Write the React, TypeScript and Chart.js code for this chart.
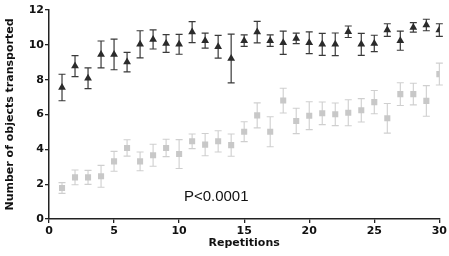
import { useEffect, useRef } from "react";
import { Chart, registerables } from "chart.js";

Chart.register(...registerables);

const repetitions = [
  1, 2, 3, 4, 5, 6, 7, 8, 9, 10, 11, 12, 13, 14, 15,
  16, 17, 18, 19, 20, 21, 22, 23, 24, 25, 26, 27, 28, 29, 30,
];
const upperMean = [
  7.55, 8.78, 8.08, 9.45, 9.45, 9.01, 10.03, 10.31, 10.08, 10.03,
  10.73, 10.24, 9.89, 9.22, 10.24, 10.73, 10.24, 10.12, 10.37, 10.12,
  10.03, 10.03, 10.75, 10.03, 10.08, 10.85, 10.24, 11.0, 11.14, 10.85,
];
const upperErr = [
  0.76, 0.6, 0.6, 0.77, 0.88, 0.56, 0.78, 0.55, 0.51, 0.57,
  0.6, 0.43, 0.65, 1.4, 0.33, 0.62, 0.33, 0.67, 0.3, 0.62,
  0.63, 0.65, 0.33, 0.63, 0.47, 0.36, 0.55, 0.27, 0.33, 0.36,
];
const lowerMean = [
  1.78, 2.39, 2.39, 2.45, 3.31, 4.08, 3.31, 3.66, 4.08, 3.73,
  4.46, 4.27, 4.46, 4.24, 5.01, 5.95, 5.01, 6.8, 5.63, 5.93,
  6.07, 6.01, 6.1, 6.24, 6.71, 5.78, 7.17, 7.17, 6.78, 8.32,
];
const lowerErr = [
  0.31, 0.42, 0.4, 0.63, 0.57, 0.47, 0.54, 0.63, 0.5, 0.83,
  0.42, 0.64, 0.61, 0.64, 0.57, 0.72, 0.86, 0.71, 0.73, 0.8,
  0.65, 0.65, 0.75, 0.67, 0.67, 0.85, 0.65, 0.62, 0.88, 0.63,
];
const xTicks = [0, 5, 10, 15, 20, 25, 30];
const yTicks = [0, 2, 4, 6, 8, 10, 12];
const xTitle = "Repetitions";
const yTitle = "Number of objects transported";
const pText = "P<0.0001";
const pTextAt = { x: 12.85, y: 1.26 };

const errorBarPlugin = {
  id: "errorBars",
  beforeDatasetsDraw(chart: any) {
    const ctx = chart.ctx;
    const yScale = chart.scales.y;
    chart.data.datasets.forEach((ds: any, di: number) => {
      const meta = chart.getDatasetMeta(di);
      const errs: number[] = ds.errors || [];
      ctx.save();
      ctx.strokeStyle = ds.errorColor;
      ctx.lineWidth = ds.errorWidth;
      meta.data.forEach((el: any, i: number) => {
        const v = ds.data[i].y;
        const e = errs[i];
        const x = el.x;
        const yt = yScale.getPixelForValue(v + e);
        const yb = yScale.getPixelForValue(v - e);
        const cap = 3.5;
        ctx.beginPath();
        ctx.moveTo(x, yt);
        ctx.lineTo(x, yb);
        ctx.moveTo(x - cap, yt);
        ctx.lineTo(x + cap, yt);
        ctx.moveTo(x - cap, yb);
        ctx.lineTo(x + cap, yb);
        ctx.stroke();
      });
      ctx.restore();
    });
  },
  afterDraw(chart: any) {
    const ctx = chart.ctx;
    const x = chart.scales.x.getPixelForValue(pTextAt.x);
    const y = chart.scales.y.getPixelForValue(pTextAt.y);
    ctx.save();
    ctx.font = "15px 'Liberation Sans', Arial, sans-serif";
    ctx.fillStyle = "#111";
    ctx.textAlign = "center";
    ctx.textBaseline = "middle";
    ctx.fillText(pText, x, y);
    ctx.restore();
  },
};

export default function App() {
  const ref = useRef<HTMLCanvasElement | null>(null);

  useEffect(() => {
    if (!ref.current) return;
    const tickFont = { family: "'DejaVu Sans', sans-serif", size: 11, weight: "bold" as const };
    const chart = new Chart(ref.current, {
      type: "scatter",
      data: {
        datasets: [
          {
            label: "upper",
            data: repetitions.map((r, i) => ({ x: r, y: upperMean[i] })),
            errors: upperErr,
            errorColor: "#3a3a3a",
            errorWidth: 1.2,
            pointStyle: "triangle",
            pointRadius: 4.5,
            backgroundColor: "#2b2b2b",
            borderColor: "#2b2b2b",
            borderWidth: 0,
            showLine: false,
          } as any,
          {
            label: "lower",
            data: repetitions.map((r, i) => ({ x: r, y: lowerMean[i] })),
            errors: lowerErr,
            errorColor: "#cfcfcf",
            errorWidth: 1.1,
            pointStyle: "rect",
            pointRadius: 4.3,
            backgroundColor: "#c8c8c8",
            borderColor: "#c8c8c8",
            borderWidth: 0,
            showLine: false,
          } as any,
        ],
      },
      options: {
        animation: false,
        responsive: false,
        layout: { padding: { left: 0, right: 8, top: 10, bottom: 0 } },
        plugins: { legend: { display: false }, tooltip: { enabled: false } },
        scales: {
          x: {
            type: "linear",
            min: 0,
            max: 30,
            afterFit: (s: any) => {
              s.height = 37;
            },
            afterBuildTicks: (s: any) => {
              s.ticks = xTicks.map((v) => ({ value: v }));
            },
            ticks: { font: tickFont, color: "#111", padding: 2, maxRotation: 0 },
            grid: {
              display: true,
              drawOnChartArea: false,
              drawTicks: true,
              tickLength: 4,
              color: "#222",
              lineWidth: 1.3,
            },
            border: { display: true, color: "#222", width: 1.5 },
            title: {
              display: true,
              text: xTitle,
              font: tickFont,
              color: "#111",
              padding: { top: 0, bottom: 6 },
            },
          },
          y: {
            type: "linear",
            min: 0,
            max: 12,
            afterFit: (s: any) => {
              s.width = 49;
            },
            afterBuildTicks: (s: any) => {
              s.ticks = yTicks.map((v) => ({ value: v }));
            },
            ticks: { font: tickFont, color: "#111", padding: 1 },
            grid: {
              display: true,
              drawOnChartArea: false,
              drawTicks: true,
              tickLength: 4,
              color: "#222",
              lineWidth: 1.3,
            },
            border: { display: true, color: "#222", width: 1.5 },
            title: {
              display: true,
              text: yTitle,
              font: tickFont,
              color: "#111",
              padding: { top: 4, bottom: 0 },
            },
          },
        },
      },
      plugins: [errorBarPlugin],
    });
    return () => chart.destroy();
  }, []);

  return (
    <div style={{ position: "absolute", left: 0, top: 0, width: 449, height: 256, background: "#fff" }}>
      <canvas ref={ref} width={449} height={256} />
    </div>
  );
}
